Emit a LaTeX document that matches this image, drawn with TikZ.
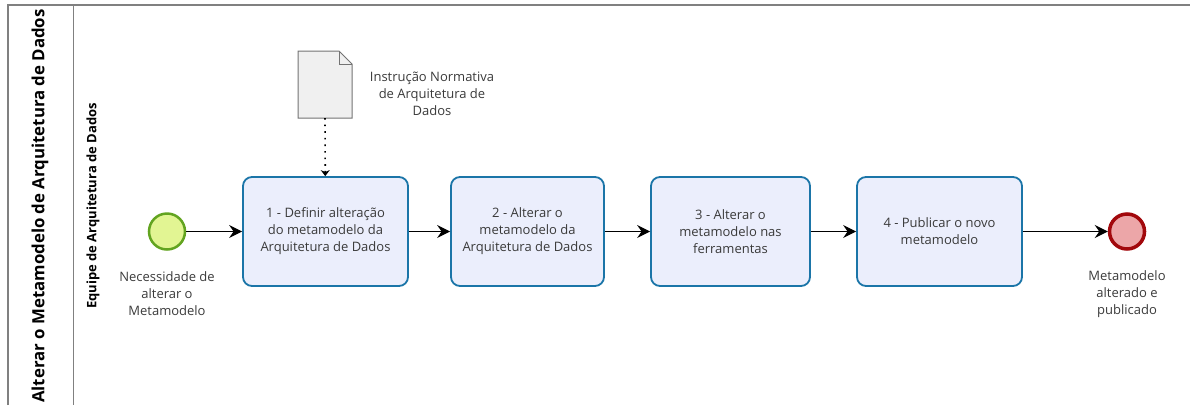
\documentclass[tikz,border=0pt]{standalone}
\usepackage{fontspec}
\setmainfont{Open Sans}
\usetikzlibrary{arrows.meta,positioning}
\definecolor{task edge}{HTML}{1B75A8}
\definecolor{task area}{HTML}{EBEEFC}
\definecolor{start edge}{HTML}{62A420}
\definecolor{start area}{HTML}{E2F593}
\definecolor{end edge}{HTML}{A2080C}
\definecolor{end area}{HTML}{ECA6A8}
\definecolor{doc area}{HTML}{F0F0F0}
\definecolor{label}{HTML}{3A3A3A}
\def\docshape{(298,51) -- (339,51) -- (352,64) -- (352,118) -- (298,118) -- cycle}
\tikzset{task/.style={rounded corners=9pt, fill=task area, draw=task edge, line width=1.8pt,
		minimum height=109pt, align=center, text=label, font=\fontsize{13}{17}\selectfont},
	event/.style={circle, minimum size=36pt, inner sep=0pt},
	caption/.style={align=center, text=label, font=\fontsize{13}{17}\selectfont},
	flow/.style={-{Stealth[length=13pt,width=13pt,inset=4.5pt]}, line width=1.2pt},
	pool/.style={draw=black!50, line width=1.5pt}}

\begin{document}
\begin{tikzpicture}[x=1pt,y=-1pt]
	\useasboundingbox (0,0) rectangle (1190,405);
	\draw[pool] (8,405) -- (8,5) -- (1190,5);
	\draw[pool] (73.5,5) -- (73.5,405);
	\node[rotate=90, font=\bfseries\fontsize{16.8}{19}\selectfont] (pooltitle) at (40,206) {Alterar o Metamodelo de Arquitetura de Dados};
	\node[rotate=90, font=\bfseries\fontsize{13}{15}\selectfont] (lanetitle) at (93,206) {Equipe de Arquitetura de Dados};
	
	\node[event, fill=start area, draw=start edge, line width=2.5pt] (start) at (167,231.5) {};
	\node[caption] (startlabel) at (167,294) {Necessidade de\\alterar o\\Metamodelo};
	
	\node[task, minimum width=165pt] (t1) at (325.5,231.5) {1 - Definir alteração\\do metamodelo da\\Arquitetura de Dados};
	\node[task, minimum width=153pt] (t2) at (527.5,231.5) {2 - Alterar o\\metamodelo da\\Arquitetura de Dados};
	\node[task, minimum width=159pt] (t3) at (730.5,231.5) {3 - Alterar o\\metamodelo nas\\ferramentas};
	\node[task, minimum width=165pt] (t4) at (939.5,231.5) {4 - Publicar o novo\\metamodelo};
	
	\node[event, fill=end area, draw=end edge, line width=3.5pt, minimum size=35pt] (end) at (1127,231.5) {};
	\node[caption] (endlabel) at (1127,294) {Metamodelo\\alterado e\\publicado};
	
	\draw[fill=doc area, draw=black!55, line width=1pt] \docshape;
	\draw[draw=black!55, line width=1pt] (339,51) -- (339,64) -- (352,64);
	\coordinate (doc) at (325,118);
	\node[caption] (doclabel) at (432,94) {Instrução Normativa\\de Arquitetura de\\Dados};
	
	\draw[line width=1.6pt, dash pattern=on 1.6pt off 5pt, -{Stealth[length=6pt,width=9pt]}] (doc) -- (t1);
	\draw[flow] (start) -- (t1);
	\draw[flow] (t1) -- (t2);
	\draw[flow] (t2) -- (t3);
	\draw[flow] (t3) -- (t4);
	\draw[flow] (t4) -- (end);
\end{tikzpicture}
\end{document}
